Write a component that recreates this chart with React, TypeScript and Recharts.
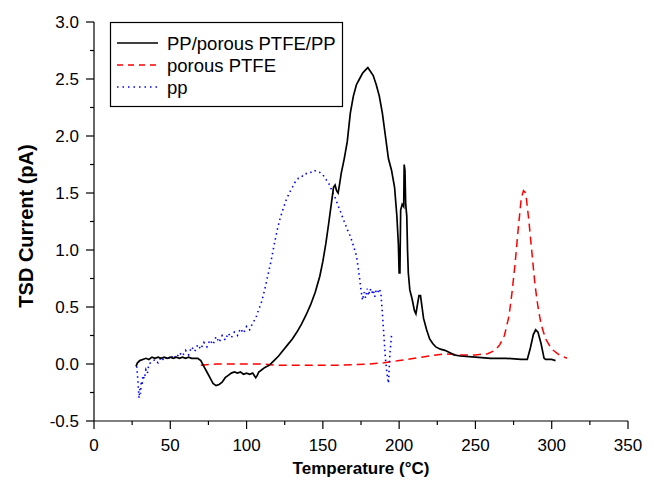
import React from 'react';
import { LineChart, Line, XAxis, YAxis } from 'recharts';

// PP/porous PTFE/PP (black solid)
const blackT = [27.5, 28.5, 30, 32, 34, 36, 38, 40, 42, 44, 46, 48, 50, 52, 54, 56, 58, 60, 62, 64, 66, 68, 70, 72, 74, 76, 78, 80, 82, 84, 86, 88, 90, 92, 94, 96, 98, 100, 102, 104, 106, 107, 108, 110, 112, 115, 118, 121, 124, 127, 130, 133, 136, 139, 142, 145, 148, 150, 152, 154, 156, 157, 158, 159, 160, 161, 162, 164, 166, 168, 170, 172, 174, 176, 178, 179.5, 181, 183, 185, 187, 189, 191, 193, 195, 197, 198.5, 199.5, 200, 200.5, 201, 202, 203, 203.3, 203.8, 204.3, 205, 205.5, 206, 207, 208.5, 210, 211, 212, 213, 214, 215, 216, 218, 220, 222, 224, 227, 230, 233, 236, 240, 250, 260, 270, 280, 284, 286, 288, 289.5, 291, 293, 295, 296, 300, 302.5];
const blackV = [-0.02, 0.01, 0.03, 0.04, 0.05, 0.04, 0.06, 0.05, 0.06, 0.05, 0.06, 0.05, 0.06, 0.05, 0.06, 0.05, 0.06, 0.05, 0.06, 0.05, 0.05, 0.05, 0.03, -0.02, -0.07, -0.12, -0.17, -0.19, -0.18, -0.16, -0.12, -0.1, -0.08, -0.07, -0.08, -0.07, -0.09, -0.08, -0.09, -0.08, -0.12, -0.1, -0.07, -0.05, -0.03, -0.01, 0.03, 0.07, 0.12, 0.17, 0.22, 0.28, 0.35, 0.43, 0.52, 0.63, 0.77, 0.9, 1.06, 1.25, 1.45, 1.55, 1.57, 1.52, 1.5, 1.58, 1.67, 1.8, 1.95, 2.2, 2.35, 2.45, 2.5, 2.55, 2.58, 2.6, 2.57, 2.53, 2.45, 2.35, 2.2, 2.0, 1.8, 1.7, 1.55, 1.3, 1.05, 0.8, 0.8, 1.35, 1.4, 1.38, 1.75, 1.7, 1.4, 1.3, 1.0, 0.8, 0.65, 0.57, 0.47, 0.44, 0.52, 0.6, 0.6, 0.5, 0.4, 0.3, 0.22, 0.18, 0.15, 0.13, 0.12, 0.1, 0.08, 0.07, 0.06, 0.05, 0.05, 0.04, 0.04, 0.14, 0.26, 0.3, 0.28, 0.18, 0.05, 0.04, 0.04, 0.03];

// porous PTFE (red dashed)
const redT = [70, 80, 90, 100, 110, 120, 130, 140, 150, 160, 170, 180, 190, 200, 210, 220, 230, 240, 250, 258, 263, 266, 269, 272, 274, 276, 278, 280, 281.5, 283, 285, 287, 289, 291, 293, 296, 300, 305, 310];
const redV = [-0.01, 0, 0, 0, 0, -0.01, -0.01, -0.01, -0.01, -0.01, -0.005, 0, 0.01, 0.03, 0.05, 0.07, 0.09, 0.08, 0.08, 0.09, 0.12, 0.17, 0.25, 0.42, 0.63, 0.88, 1.18, 1.45, 1.52, 1.5, 1.26, 0.98, 0.7, 0.5, 0.35, 0.22, 0.13, 0.08, 0.05];

// pp (blue dotted)
const blueT = [28, 28.8, 29.5, 30, 30.5, 31, 31.5, 32, 33, 34, 35, 36, 38, 40, 42, 44, 46, 48, 50, 52, 54, 56, 58, 60, 62, 64, 66, 68, 70, 72, 74, 76, 78, 80, 82, 84, 86, 88, 90, 92, 94, 96, 98, 100, 102, 104, 106, 108, 110, 112, 114, 116, 118, 120, 122, 124, 126, 128, 130, 132, 134, 136, 138, 140, 142, 144, 146, 148, 150, 152, 154, 156, 158, 160, 162, 164, 166, 168, 170, 172, 173, 174, 175, 176, 177, 178, 179, 180, 181, 182, 183, 184, 185, 186, 187, 188, 189, 190, 191, 192, 193, 194, 195];
const blueV = [-0.02, -0.15, -0.3, -0.22, -0.26, -0.15, -0.19, -0.1, -0.13, -0.05, -0.08, 0, 0.02, 0.04, 0.01, 0.06, 0.03, 0.07, 0.04, 0.08, 0.05, 0.1, 0.07, 0.12, 0.08, 0.15, 0.11, 0.17, 0.13, 0.19, 0.15, 0.21, 0.17, 0.24, 0.19, 0.25, 0.21, 0.27, 0.23, 0.28, 0.25, 0.31, 0.27, 0.33, 0.3, 0.36, 0.4, 0.48, 0.55, 0.66, 0.78, 0.9, 1.04, 1.17, 1.28, 1.36, 1.44, 1.5, 1.55, 1.6, 1.63, 1.64, 1.67, 1.67, 1.68, 1.7, 1.69, 1.68, 1.66, 1.62, 1.58, 1.52, 1.46, 1.39, 1.32, 1.25, 1.18, 1.12, 1.04, 0.95, 0.86, 0.76, 0.65, 0.56, 0.63, 0.58, 0.66, 0.6, 0.66, 0.62, 0.65, 0.59, 0.65, 0.63, 0.66, 0.62, 0.45, 0.25, 0.05, -0.08, -0.17, 0.1, 0.25];

const xTicks = [0, 25, 50, 75, 100, 125, 150, 175, 200, 225, 250, 275, 300, 325, 350];
const yTicks = [-0.5, -0.25, 0, 0.25, 0.5, 0.75, 1, 1.25, 1.5, 1.75, 2, 2.25, 2.5, 2.75, 3];

const zip = (t: number[], v: number[]) => t.map((x, i) => ({ t: x, v: v[i] }));
const blackData = zip(blackT, blackV);
const redData = zip(redT, redV);
const blueData = zip(blueT, blueV);

const FONT = '"Liberation Sans", Arial, sans-serif';

const XTick = (props: any) => {
  const { x, y, payload } = props;
  const major = payload.value % 50 === 0;
  return (
    <g>
      <line x1={x} y1={y} x2={x} y2={y + (major ? 8 : 4)} stroke="#000" strokeWidth={1.2} />
      {major && (
        <text x={x} y={y + 30} textAnchor="middle" fontSize={17} fontFamily={FONT} fill="#000">
          {payload.value}
        </text>
      )}
    </g>
  );
};

const YTick = (props: any) => {
  const { x, y, payload } = props;
  const major = Math.abs(payload.value % 0.5) < 1e-9;
  return (
    <g>
      <line x1={x - (major ? 8 : 4)} y1={y} x2={x} y2={y} stroke="#000" strokeWidth={1.2} />
      {major && (
        <text x={x - 15} y={y + 6} textAnchor="end" fontSize={17} fontFamily={FONT} fill="#000">
          {payload.value.toFixed(1)}
        </text>
      )}
    </g>
  );
};

export default function App() {
  return (
    <div style={{ position: 'absolute', left: 0, top: 0, width: 654, height: 484, background: '#fff' }}>
      <LineChart width={654} height={484} margin={{ top: 22, right: 26, bottom: 23, left: 34 }}>
        <XAxis
          type="number" dataKey="t" domain={[0, 350]} ticks={xTicks} allowDataOverflow
          height={40} tickSize={0} tickMargin={0} tickLine={false} tick={<XTick />}
          axisLine={{ stroke: '#000', strokeWidth: 1.2 }} interval={0}
        />
        <YAxis
          type="number" domain={[-0.5, 3]} ticks={yTicks} allowDataOverflow
          width={60} tickSize={0} tickMargin={0} tickLine={false} tick={<YTick />}
          axisLine={{ stroke: '#000', strokeWidth: 1.2 }} interval={0}
        />
        <Line data={redData} dataKey="v" stroke="#ff0000" strokeWidth={1.5} strokeDasharray="8 5" dot={false} isAnimationActive={false} />
        <Line data={blueData} dataKey="v" stroke="#0000ff" strokeWidth={1.6} strokeDasharray="1.5 3.5" dot={false} isAnimationActive={false} />
        <Line data={blackData} dataKey="v" stroke="#000" strokeWidth={1.7} dot={false} isAnimationActive={false} />
      </LineChart>

      {/* titles + legend */}
      <svg width={654} height={484} style={{ position: 'absolute', left: 0, top: 0, pointerEvents: 'none' }}>
        <text x={361} y={474} textAnchor="middle" fontSize={17} fontWeight="bold" fontFamily={FONT}>Temperature (°C)</text>
        <text transform="translate(33,226) rotate(-90)" textAnchor="middle" fontSize={20} fontWeight="bold" fontFamily={FONT}>TSD Current (pA)</text>

        <rect x={110.5} y={22.5} width={232} height={84} fill="#fff" stroke="#000" strokeWidth={1.2} />
        <line x1={117} y1={43} x2={158} y2={43} stroke="#000" strokeWidth={1.5} />
        <line x1={117} y1={65} x2={158} y2={65} stroke="#ff0000" strokeWidth={1.5} strokeDasharray="6 5" />
        <line x1={117} y1={87} x2={158} y2={87} stroke="#0000ff" strokeWidth={1.6} strokeDasharray="1.5 4" />
        <text x={167} y={49.5} fontSize={18.5} fontFamily={FONT}>PP/porous PTFE/PP</text>
        <text x={167} y={71.5} fontSize={18.5} fontFamily={FONT}>porous PTFE</text>
        <text x={167} y={93.5} fontSize={18.5} fontFamily={FONT}>pp</text>
      </svg>
    </div>
  );
}
